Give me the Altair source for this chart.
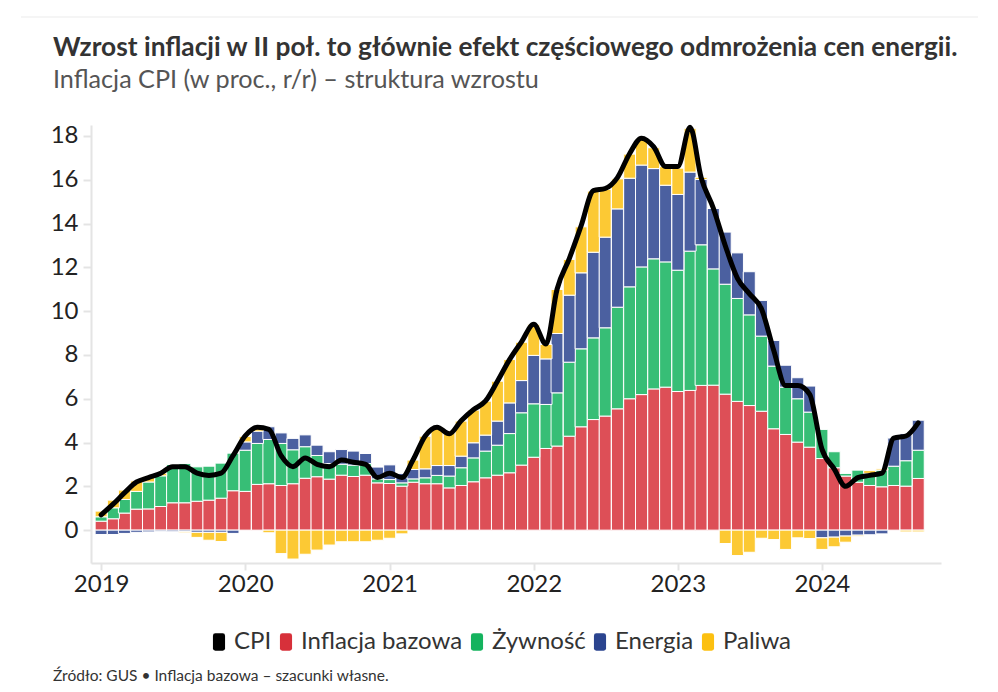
import altair as alt
import pandas as pd

months = pd.date_range("2019-01-01", "2024-09-01", freq="MS").strftime("%Y-%m-%dT00:00:00").tolist()

cpi = [0.7, 1.2, 1.7, 2.2, 2.4, 2.6, 2.9, 2.9, 2.6, 2.5, 2.6, 3.4,
       4.3, 4.7, 4.6, 3.4, 2.9, 3.3, 3.0, 2.9, 3.2, 3.1, 3.0, 2.4,
       2.6, 2.4, 3.2, 4.3, 4.7, 4.4, 5.0, 5.5, 5.9, 6.8, 7.8, 8.6,
       9.4, 8.5, 11.0, 12.4, 13.9, 15.5, 15.6, 16.1, 17.2, 17.9, 17.5, 16.6,
       16.6, 18.4, 16.1, 14.7, 13.0, 11.5, 10.8, 10.1, 8.2, 6.6, 6.6, 6.2,
       3.7, 2.8, 2.0, 2.4, 2.5, 2.6, 4.2, 4.3, 4.9]

core = [0.41, 0.52, 0.78, 0.96, 0.97, 1.08, 1.25, 1.25, 1.32, 1.37, 1.46, 1.80,
        1.77, 2.09, 2.12, 2.04, 2.12, 2.37, 2.44, 2.33, 2.51, 2.45, 2.51, 2.16,
        2.13, 2.01, 2.19, 2.12, 2.12, 1.93, 2.04, 2.21, 2.39, 2.51, 2.62, 2.97,
        3.33, 3.73, 3.84, 4.29, 4.72, 5.05, 5.21, 5.54, 6.00, 6.19, 6.45, 6.53,
        6.33, 6.38, 6.61, 6.62, 6.21, 5.88, 5.69, 5.43, 4.63, 4.37, 4.02, 3.79,
        3.27, 2.85, 2.47, 2.19, 2.04, 1.98, 2.04, 2.01, 2.36]

food = [0.20, 0.50, 0.62, 0.81, 1.23, 1.40, 1.75, 1.79, 1.57, 1.55, 1.60, 1.73,
        1.88, 1.87, 2.02, 1.92, 1.55, 1.44, 0.97, 0.71, 0.50, 0.52, 0.53, 0.18,
        0.18, 0.15, 0.15, 0.27, 0.38, 0.54, 0.81, 1.09, 1.22, 1.37, 1.79, 2.39,
        2.44, 2.01, 2.43, 3.38, 3.56, 3.73, 4.03, 4.64, 5.11, 5.83, 5.94, 5.72,
        5.54, 6.36, 6.42, 5.31, 5.02, 4.70, 4.14, 3.43, 2.86, 2.16, 1.98, 1.60,
        1.33, 0.73, 0.12, 0.55, 0.55, 0.76, 0.88, 1.16, 1.29]

energy = [-0.20, -0.20, -0.15, -0.10, -0.08, -0.05, -0.07, -0.07, -0.10, -0.10, -0.10, -0.15,
          0.38, 0.56, 0.58, 0.48, 0.52, 0.54, 0.47, 0.54, 0.67, 0.64, 0.46, 0.54,
          0.67, 0.43, 0.43, 0.41, 0.45, 0.48, 0.53, 0.69, 0.73, 1.10, 1.40, 1.47,
          2.21, 2.08, 2.71, 3.06, 3.47, 3.91, 4.14, 4.49, 4.96, 4.65, 4.12, 3.50,
          3.46, 3.61, 2.98, 2.76, 2.38, 2.08, 1.97, 1.63, 1.17, 1.00, 0.96, 1.19,
          -0.35, -0.32, -0.27, -0.23, -0.21, -0.17, 1.30, 1.24, 1.37]

fuel = [0.26, 0.35, 0.43, 0.48, 0.24, 0.12, 0.02, -0.05, -0.23, -0.36, -0.42, 0.00,
        0.25, 0.18, -0.12, -1.07, -1.32, -1.10, -0.91, -0.68, -0.53, -0.53, -0.53, -0.46,
        -0.37, -0.17, 0.43, 1.49, 1.75, 1.49, 1.60, 1.49, 1.55, 1.82, 1.98, 1.75,
        1.42, 0.66, 2.01, 1.63, 2.10, 2.79, 2.18, 1.37, 1.10, 1.20, 0.95, 0.85,
        1.20, 2.00, 0.10, 0.00, -0.61, -1.16, -1.01, -0.37, -0.43, -0.88, -0.35, -0.38,
        -0.53, -0.44, -0.28, -0.05, 0.13, 0.06, 0.00, -0.08, -0.08]

series_names = ["Inflacja bazowa", "Żywność", "Energia", "Paliwa"]
legend_names = ["CPI"] + series_names
legend_colors = ["#000000", "#d7303a", "#14b35e", "#2b448f", "#fcc010"]

title_text = "Wzrost inflacji w II poł. to głównie efekt częściowego odmrożenia cen energii."
subtitle_text = "Inflacja CPI (w proc., r/r) – struktura wzrostu"
footer_text = "Źródło: GUS • Inflacja bazowa – szacunki własne."

rows = []
for k, (name, vals) in enumerate(zip(series_names, [core, food, energy, fuel])):
    for d, v in zip(months, vals):
        rows.append({"date": d, "value": v, "series": name, "order": k})
df = pd.DataFrame(rows)
cpi_df = pd.DataFrame({"date": months, "cpi": cpi})

FONT = "Lato"
W, H = 850, 438
LEGEND_SYMBOL = ("M -0.7 -0.72 Q -0.7 -1 -0.42 -1 L 0.42 -1 Q 0.7 -1 0.7 -0.72 "
                 "L 0.7 0.72 Q 0.7 1 0.42 1 L -0.42 1 Q -0.7 1 -0.7 0.72 Z")

x_scale = alt.Scale(domain=[alt.DateTime(year=2018, month=12, date=19),
                            alt.DateTime(year=2024, month=10, date=16)])
y_scale = alt.Scale(domain=[-1.5, 18.5], nice=False, zero=False)

bars = alt.Chart(df).mark_bar(size=12, stroke="white", strokeWidth=1, fillOpacity=0.85).encode(
    x=alt.X("date:T", scale=x_scale, title=None,
            axis=alt.Axis(format="%Y", tickCount={"interval": "year", "step": 1},
                          grid=False, labelFlush=False, domainColor="#e4e4e4", domainWidth=2,
                          tickColor="#e4e4e4", tickWidth=2, tickSize=7,
                          labelFontSize=24, labelColor="#222222", labelPadding=2)),
    y=alt.Y("value:Q", stack="zero", scale=y_scale, title=None,
            axis=alt.Axis(values=list(range(0, 19, 2)), grid=False,
                          domainColor="#e4e4e4", domainWidth=2,
                          tickColor="#e4e4e4", tickWidth=2, tickSize=8,
                          labelFontSize=24, labelColor="#222222", labelPadding=5)),
    color=alt.Color("series:N", scale=alt.Scale(domain=legend_names, range=legend_colors),
                    legend=alt.Legend(title=None, orient="none", legendX=116, legendY=505,
                                      direction="horizontal",
                                      symbolType=LEGEND_SYMBOL,
                                      symbolSize=300, symbolStrokeWidth=0, symbolOpacity=1,
                                      labelFontSize=24, labelFont=FONT, labelColor="#333333",
                                      labelLimit=0, labelOffset=3, columnPadding=2)),
    order=alt.Order("order:Q"),
)

line = alt.Chart(cpi_df).mark_line(color="black", strokeWidth=5, interpolate="monotone",
                                   strokeCap="round", strokeJoin="round").encode(
    x=alt.X("date:T", scale=x_scale),
    y=alt.Y("cpi:Q", scale=y_scale),
)

top_rule = alt.Chart(pd.DataFrame({"a": [0]})).mark_rule(color="#ebebeb", strokeWidth=1).encode(
    x=alt.value(-70), x2=alt.value(887), y=alt.value(-108))

title = alt.Chart(pd.DataFrame({"t": [title_text]})).mark_text(
    align="left", baseline="alphabetic", font=FONT, fontSize=26.3, fontWeight="bold", color="#333333"
).encode(text="t:N", x=alt.value(-38), y=alt.value(-69))

subtitle = alt.Chart(pd.DataFrame({"t": [subtitle_text]})).mark_text(
    align="left", baseline="alphabetic", font=FONT, fontSize=25.2, color="#555555"
).encode(text="t:N", x=alt.value(-38), y=alt.value(-37))

footer = alt.Chart(pd.DataFrame({"t": [footer_text]})).mark_text(
    align="left", baseline="alphabetic", font=FONT, fontSize=15.5, color="#333333"
).encode(text="t:N", x=alt.value(-38), y=alt.value(556))

chart = alt.layer(top_rule, bars, line, title, subtitle, footer).properties(
    width=W, height=H,
    padding={"left": 83, "top": 117, "right": 49, "bottom": 121},
    autosize=alt.AutoSizeParams(type="none"),
).configure(font=FONT).configure_view(stroke=None)

chart.save("out.html", embed_options={"renderer": "svg", "actions": False})
